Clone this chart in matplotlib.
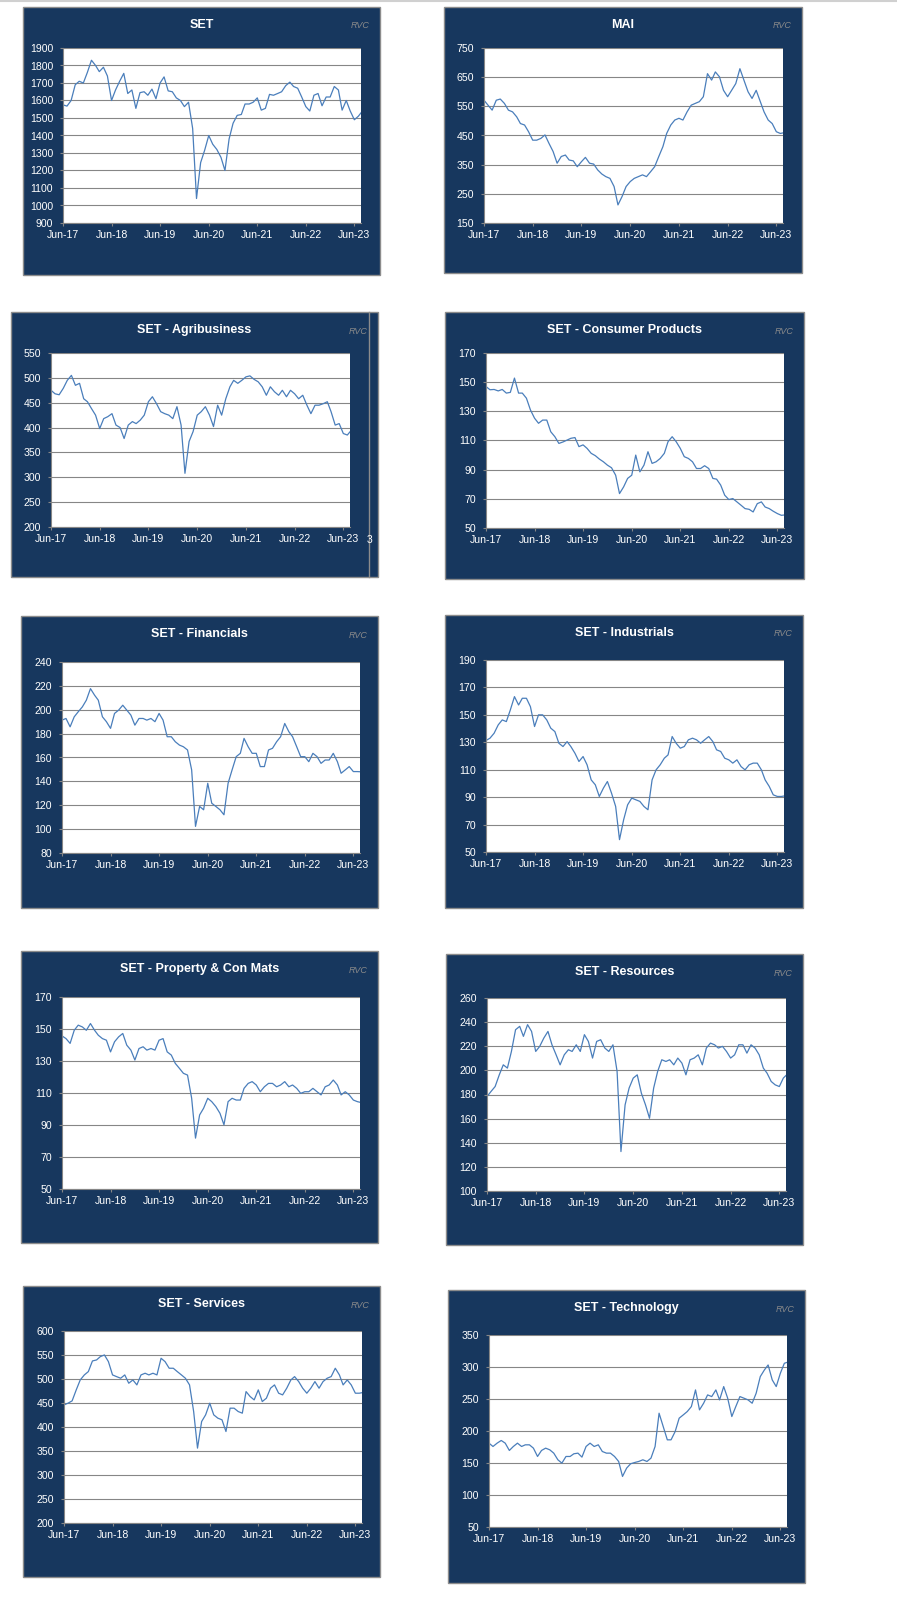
import numpy as np
import pandas as pd
import matplotlib
matplotlib.use('Agg')
import matplotlib.pyplot as plt
import matplotlib.dates as mdates
from matplotlib.patches import Rectangle
from matplotlib.lines import Line2D

plt.rcParams['font.family'] = ['Liberation Sans', 'DejaVu Sans']

# monthly readings, Jun-17 .. Aug-23 (75 months)
months = pd.date_range('2017-06-01', '2023-08-01', freq='MS')

set_index = [1575, 1568, 1600, 1690, 1710, 1700, 1760,
             1830, 1800, 1765, 1790, 1740, 1600, 1660, 1710, 1755, 1640, 1660, 1555,
             1645, 1650, 1630, 1665, 1610, 1700, 1735, 1655, 1650, 1615, 1600, 1565,
             1590, 1440, 1040, 1245, 1315, 1400, 1350, 1320, 1275, 1200, 1380, 1470,
             1515, 1520, 1580, 1580, 1590, 1615, 1545, 1555, 1635, 1630, 1640, 1650,
             1685, 1705, 1680, 1670, 1620, 1565, 1540, 1630, 1640, 1570, 1620, 1620,
             1680, 1660, 1545, 1600, 1540, 1490, 1510, 1540]
mai = [571, 554, 537, 571, 575, 560, 537,
       531, 514, 491, 486, 463, 434, 434, 440, 452, 423, 395, 355,
       378, 383, 366, 363, 343, 360, 375, 355, 352, 332, 318, 309,
       303, 275, 212, 241, 275, 292, 303, 309, 315, 309, 326, 343,
       378, 412, 457, 486, 503, 509, 503, 531, 554, 560, 566, 583,
       662, 640, 668, 651, 605, 583, 605, 628, 679, 640, 600, 577,
       605, 566, 531, 503, 491, 463, 457, 460]
agri = [475, 468, 466, 479, 495, 505, 485,
        489, 458, 452, 438, 425, 398, 418, 422, 428, 405, 400, 378,
        405, 412, 408, 415, 425, 452, 462, 448, 432, 428, 425, 418,
        442, 405, 308, 372, 392, 425, 432, 442, 425, 402, 445, 425,
        458, 482, 495, 489, 495, 502, 504, 497, 492, 482, 465, 482,
        472, 465, 475, 462, 475, 468, 458, 465, 445, 428, 445, 445,
        448, 452, 432, 405, 408, 388, 385, 395]
consumer = [147, 144.8, 145, 144, 145, 142.5, 143,
            152.8, 142.5, 142.5, 139, 131, 125.3, 121.8, 124, 124, 116, 112.6, 108,
            109, 110.3, 111.5, 112, 105.8, 107, 104.6, 101.2, 99.6, 97.3, 95.4, 93.1,
            91.3, 86.2, 73.6, 78.2, 84, 86.2, 100, 88.5, 93.1, 102.3, 94.3, 95.4,
            97.7, 101.2, 109.2, 112.6, 109.2, 104.6, 98.9, 97.7, 95.4, 90.8, 90.8, 92.7,
            90.8, 84, 83.5, 79.4, 72.5, 69.5, 70.2, 67.9, 65.6, 63.3, 62.8, 61,
            66.7, 67.9, 64.4, 63.3, 61.5, 59.9, 58.7, 59]
financials = [191.3, 192.7, 185.7, 194.1, 198.3, 202.4, 208,
              217.7, 212.2, 208, 194.1, 190, 184.4, 196.9, 199.7, 203.8, 199.7, 195.5, 187.1,
              192.7, 192.7, 191.3, 192.7, 190, 196.9, 191.3, 177.4, 177.4, 173.2, 170.4, 169,
              166.3, 149.6, 102.3, 119, 116.2, 138.4, 121.7, 119, 116.2, 112, 138.4, 149.6,
              160.7, 163.5, 176, 169, 163.5, 163.5, 152.4, 152.4, 166.3, 167.7, 173.2, 177.4,
              188.5, 181.6, 177.4, 169, 160.7, 160.7, 156.5, 163.5, 160.7, 155.1, 157.9, 157.9,
              163.5, 156.5, 146.8, 149.6, 152.4, 148.2, 148.2, 148]
industrials = [131.3, 133, 136.6, 142.7, 146.3, 145.1, 153.6,
               163.3, 157.2, 162.1, 162.1, 156, 141.5, 150, 150, 146.3, 140.3, 137.8, 129.3,
               126.9, 130.5, 126.9, 122, 116, 119.6, 113.6, 102.6, 99, 90.5, 96.6, 101.4,
               92.9, 83.2, 59, 73.5, 84.4, 89.3, 88.1, 86.9, 83.2, 80.8, 102.6, 109.9,
               113.6, 118.4, 120.8, 134.2, 129.3, 125.7, 126.9, 131.8, 133, 131.8, 129.3, 131.8,
               134.2, 130.5, 124.5, 123.3, 118.4, 117.2, 114.8, 117.2, 112.3, 109.9, 113.6, 114.8,
               114.8, 109.9, 102.6, 97.8, 91.7, 90.5, 90.5, 91]
property_cm = [145.7, 144, 141, 149.2, 152.4, 151.3, 149.2,
               153.4, 149.2, 146.1, 144, 143, 135.7, 142, 145.1, 147.2, 139.9, 136.8, 130.6,
               137.8, 138.9, 136.8, 137.8, 136.8, 143, 144, 135.7, 133.7, 128.5, 125.4, 122.3,
               121.2, 106.7, 81.8, 96.3, 100.5, 106.7, 104.6, 101.5, 97.3, 90.1, 104.6, 106.7,
               105.6, 105.6, 112.9, 116, 117.1, 115, 110.8, 113.9, 116, 116, 113.9, 115,
               117.1, 113.9, 115, 112.9, 109.8, 110.8, 110.8, 112.9, 110.8, 108.8, 113.9, 115,
               118.1, 115, 108.8, 110.8, 108.8, 105.6, 104.6, 104]
resources = [178.3, 182.5, 186.6, 196.3, 204.6, 201.9, 215.7,
             233.7, 236.5, 228.2, 237.9, 232.3, 215.7, 219.9, 226.8, 232.3, 221.2, 212.9, 204.6,
             212.9, 217.1, 215.7, 221.2, 215.7, 229.6, 224, 210.2, 224, 225.4, 218.5, 215.7,
             221.2, 199.1, 132.7, 171.4, 185.3, 193.6, 196.3, 181.1, 171.4, 160.3, 185.3, 199.1,
             208.8, 207.4, 208.8, 204.6, 210.2, 206, 196.3, 208.8, 210.2, 212.9, 204.6, 218.5,
             222.6, 221.2, 218.5, 219.9, 215.7, 210.2, 212.9, 221.2, 221.2, 214.3, 221.2, 218.5,
             212.9, 201.9, 197.7, 190.8, 188, 186.6, 193.6, 197]
services = [446, 449.6, 454.4, 477.3, 498, 508.5, 515.4,
            537.6, 539.7, 546.6, 550.1, 536.2, 508.5, 505, 501.6, 508.5, 491.2, 498, 487.7,
            508.5, 512, 508.5, 512, 508.5, 543.2, 536.2, 522.4, 522.4, 515.4, 508.5, 501.6,
            487.7, 432.2, 356, 411.4, 425.3, 449.6, 425.3, 418.4, 415, 390.6, 439.2, 439.2,
            432.2, 428.8, 473.8, 463.4, 456.5, 477.3, 453, 460, 480.8, 487.7, 470.4, 466.9,
            480.8, 498, 505, 494.6, 480.8, 470.4, 480.8, 494.6, 480.8, 494.6, 501.6, 505,
            522.4, 508.5, 487.7, 498, 487.7, 470.4, 470.4, 472]
technology = [181, 175.8, 181, 185.2, 181, 169.6, 175.8,
              181, 175.8, 178.4, 178.4, 173.2, 160.2, 169.6, 173.2, 170.6, 165.4, 155, 149.8,
              160.2, 160.2, 164.4, 165.4, 159.2, 175.8, 181, 175.8, 178.4, 168, 165.4, 165.4,
              160.2, 152.4, 129, 142, 148.8, 150.8, 152.4, 155, 152.4, 157.6, 175.8, 227.8,
              207, 186.2, 186.2, 199.2, 220, 225.2, 230.4, 238.2, 264.2, 233, 243.4, 256.4,
              253.8, 264.2, 248.6, 269.4, 251.2, 222.6, 238.2, 253.8, 251.2, 248.6, 243.4, 259,
              285, 295.4, 303.2, 279.8, 269.4, 290.2, 305.8, 308]

NAVY = '#17375E'
LINE = '#4A7EBB'
GRID = '#868686'
W, H = 897, 1617

# title, series, y-range/step, dark box (px), plot area (px)
panels = [
    ('SET', set_index, 900, 1900, 100, (23, 7, 380, 275), (63, 48, 361, 223)),
    ('MAI', mai, 150, 750, 100, (444, 7, 802, 273), (484, 48, 783, 223)),
    ('SET - Agribusiness', agri, 200, 550, 50, (11, 312, 378, 577), (51, 353, 350, 527)),
    ('SET - Consumer Products', consumer, 50, 170, 20, (445, 312, 804, 579), (486, 353, 784, 528)),
    ('SET - Financials', financials, 80, 240, 20, (21, 616, 378, 908), (62, 662, 360, 853)),
    ('SET - Industrials', industrials, 50, 190, 20, (445, 615, 803, 908), (486, 660, 784, 852)),
    ('SET - Property & Con Mats', property_cm, 50, 170, 20, (21, 951, 378, 1243), (62, 997, 360, 1189)),
    ('SET - Resources', resources, 100, 260, 20, (446, 954, 803, 1245), (487, 998, 786, 1191)),
    ('SET - Services', services, 200, 600, 50, (23, 1286, 380, 1577), (64, 1331, 362, 1523)),
    ('SET - Technology', technology, 50, 350, 50, (448, 1290, 805, 1583), (489, 1335, 787, 1527)),
]

fig = plt.figure(figsize=(W / 100, H / 100), dpi=100)


def fx(x):
    return x / W


def fy(y):
    return 1 - y / H


fig.add_artist(Line2D([0, 1], [fy(1), fy(1)], transform=fig.transFigure,
                      color='#d0d0d0', lw=1.5))

for title, vals, lo, hi, step, box, area in panels:
    bx0, by0, bx1, by1 = box
    fig.add_artist(Rectangle((fx(bx0), fy(by1)), (bx1 - bx0) / W, (by1 - by0) / H,
                             transform=fig.transFigure, facecolor=NAVY,
                             edgecolor='#8c8c8c', lw=1, zorder=-1))
    px0, py0, px1, py1 = area
    ax = fig.add_axes([fx(px0), fy(py1), (px1 - px0) / W, (py1 - py0) / H])
    ax.set_facecolor('white')
    ax.plot(months, vals, color=LINE, lw=0.9)
    ax.set_ylim(lo, hi)
    ax.set_yticks(np.arange(lo, hi + 1, step))
    ax.set_xlim(pd.Timestamp('2017-06-01'), pd.Timestamp('2023-07-21'))
    ax.set_xticks(pd.date_range('2017-06-01', '2023-06-01', freq='12MS'))
    ax.xaxis.set_major_formatter(mdates.DateFormatter('%b-%y'))
    ax.grid(axis='y', color=GRID, lw=0.8)
    for s in ['top', 'right']:
        ax.spines[s].set_visible(False)
    for s in ['left', 'bottom']:
        ax.spines[s].set_color(GRID)
        ax.spines[s].set_linewidth(0.8)
    ax.tick_params(colors=GRID, labelcolor='white', labelsize=7.6, length=2.2, width=0.8)
    ax.tick_params(axis='y', pad=5)
    ax.tick_params(axis='x', pad=2.8)

    fig.text(fx((bx0 + bx1) / 2), fy(by0 + 18), title, ha='center', va='center',
             color='white', fontsize=9, fontweight='bold')
    fig.text(fx(bx1 - 10), fy(by0 + 19), 'RVC', ha='right', va='center',
             color='#8a8a8a', fontsize=6.5, style='italic')

# leftover edge of a neighbouring chart beside the Agribusiness panel
fig.add_artist(Line2D([fx(369), fx(369)], [fy(312), fy(577)], transform=fig.transFigure,
                      color='#8c8c8c', lw=1))
fig.text(fx(367), fy(540), '3', ha='left', va='center', color='white', fontsize=7.5)

fig.savefig('out.png', dpi=100)
